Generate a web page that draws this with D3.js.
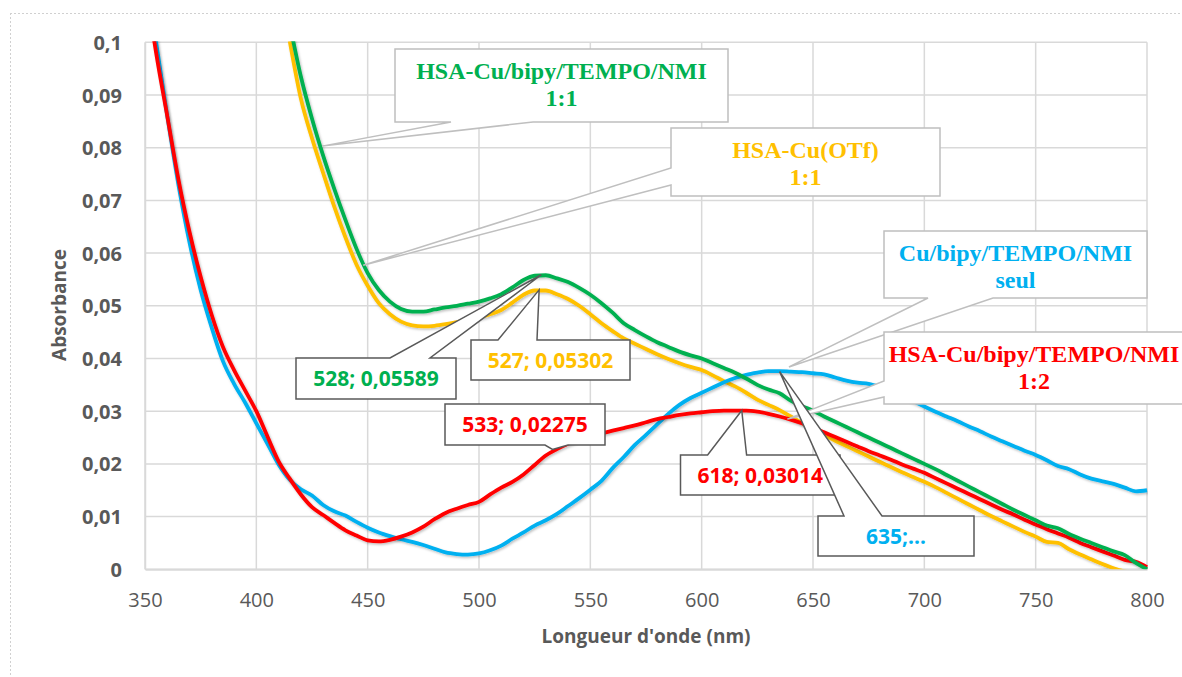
<!DOCTYPE html>
<html><head><meta charset="utf-8">
<script src="https://cdn.jsdelivr.net/npm/d3@7"></script>
<style>html,body{margin:0;padding:0;background:#fff;}svg{display:block;}</style>
</head><body>
<svg id="chart" width="1182" height="677"></svg>
<script>
// ---------- data ----------
const wavelengths = [350,355,360,365,370,375,380,385,390,395,400,405,410,415,420,425,430,435,440,445,
450,455,460,465,470,475,480,485,490,495,500,505,510,515,520,525,530,535,540,545,
550,555,560,565,570,575,580,585,590,595,600,605,610,615,620,625,630,635,640,645,
650,655,660,665,670,675,680,685,690,695,700,705,710,715,720,725,730,735,740,745,
750,755,760,765,770,775,780,785,790,795,800];

// HSA-Cu/bipy/TEMPO/NMI 1:1 (green)
const greenHSA11 = [null,null,null,null,null,null,null,null,null,null,null,null,null,0.1035,0.0935,0.0855,0.0785,0.0722,0.0663,0.0608,
0.0562,0.0530,0.0508,0.0494,0.0489,0.0489,0.0493,0.0497,0.0500,0.0504,0.0508,0.0514,0.0522,0.0535,0.0549,0.0557,0.0558,0.0552,0.0545,0.0534,
0.0521,0.0505,0.0487,0.0467,0.0454,0.0442,0.0431,0.0422,0.0413,0.0406,0.0400,0.0391,0.0382,0.0373,0.0362,0.0350,0.0341,0.0334,0.0320,0.0310,
0.0301,0.0290,0.0280,0.0270,0.0260,0.0250,0.0240,0.0230,0.0220,0.0210,0.0200,0.0190,0.0179,0.0168,0.0157,0.0146,0.0135,0.0124,0.0113,0.0103,
0.0093,0.0083,0.0078,0.0067,0.0058,0.0050,0.0042,0.0034,0.0027,0.0012,0.0000];

// HSA-Cu(OTf) 1:1 (yellow)
const yellowHSAOTf = [null,null,null,null,null,null,null,null,null,null,null,null,null,0.1002,0.0893,0.0818,0.0752,0.0688,0.0630,0.0578,
0.0538,0.0505,0.0484,0.0470,0.0463,0.0461,0.0462,0.0465,0.0469,0.0473,0.0478,0.0484,0.0492,0.0506,0.0521,0.0529,0.0529,0.0522,0.0513,0.0500,
0.0484,0.0467,0.0452,0.0438,0.0428,0.0418,0.0408,0.0399,0.0391,0.0384,0.0378,0.0368,0.0357,0.0347,0.0335,0.0322,0.0312,0.0302,0.0290,0.0278,
0.0266,0.0255,0.0244,0.0234,0.0224,0.0214,0.0204,0.0194,0.0184,0.0175,0.0166,0.0156,0.0145,0.0134,0.0123,0.0112,0.0101,0.0091,0.0081,0.0071,
0.0062,0.0052,0.0050,0.0038,0.0028,0.0019,0.0010,0.0002,-0.0004,-0.0008,-0.0010];

// Cu/bipy/TEMPO/NMI seul (blue)
const blueSeul = [0.113,0.100,0.086,0.073,0.062,0.053,0.0458,0.0395,0.0352,0.0316,0.0277,0.0238,0.0199,0.0170,0.0152,0.0140,0.0122,0.0110,0.0102,0.0090,
0.0079,0.0070,0.0063,0.0057,0.0052,0.0046,0.0039,0.0032,0.0029,0.0028,0.0030,0.0036,0.0045,0.0058,0.0070,0.0083,0.0093,0.0105,0.0120,0.0135,
0.0151,0.0168,0.0192,0.0213,0.0236,0.0255,0.0275,0.0295,0.0312,0.0325,0.0335,0.0345,0.0355,0.0363,0.0369,0.0373,0.0376,0.0376,0.0375,0.0374,
0.0372,0.0370,0.0364,0.0358,0.0354,0.0352,0.0346,0.0338,0.0329,0.0319,0.0309,0.0299,0.0290,0.0281,0.0271,0.0262,0.0252,0.0243,0.0234,0.0225,
0.0217,0.0207,0.0196,0.0190,0.0180,0.0172,0.0167,0.0162,0.0155,0.0148,0.0150];

// HSA-Cu/bipy/TEMPO/NMI 1:2 (red)
const redHSA12 = [0.112,0.098,0.086,0.074,0.064,0.0555,0.0482,0.0422,0.0378,0.0339,0.0300,0.0252,0.0205,0.0172,0.0142,0.0118,0.0103,0.0088,0.0074,0.0064,
0.0055,0.0053,0.0056,0.0062,0.0070,0.0081,0.0095,0.0107,0.0115,0.0122,0.0128,0.0142,0.0155,0.0166,0.0180,0.0198,0.0216,0.0228,0.0238,0.0246,
0.0253,0.0258,0.0263,0.0268,0.0273,0.0279,0.0285,0.0289,0.0293,0.0296,0.0298,0.0300,0.0301,0.0301,0.0301,0.0299,0.0295,0.0290,0.0284,0.0277,
0.0269,0.0260,0.0251,0.0242,0.0233,0.0224,0.0216,0.0208,0.0199,0.0191,0.0183,0.0173,0.0163,0.0153,0.0143,0.0133,0.0123,0.0113,0.0104,0.0094,
0.0085,0.0076,0.0068,0.0060,0.0050,0.0042,0.0034,0.0026,0.0018,0.0014,0.0004];

const xTicks = [350,400,450,500,550,600,650,700,750,800];
const yTicks = [0,0.01,0.02,0.03,0.04,0.05,0.06,0.07,0.08,0.09,0.1];
const yTickLabels = ["0","0,01","0,02","0,03","0,04","0,05","0,06","0,07","0,08","0,09","0,1"];

// series names & point labels
const seriesNames = ["HSA-Cu/bipy/TEMPO/NMI|1:1","HSA-Cu(OTf)|1:1","Cu/bipy/TEMPO/NMI|seul","HSA-Cu/bipy/TEMPO/NMI|1:2"];
const pointLabelX = [528, 527, 533, 618, 635];
const pointLabelY = [0.05589, 0.05302, 0.02275, 0.03014, 0.0375];
const pointLabelText = ["528; 0,05589","527; 0,05302","533; 0,02275","618; 0,03014","635;\u2026"];

// ---------- layout ----------
const C = {green:"#00B050", yellow:"#FFC000", blue:"#00B0F0", red:"#FF0000"};
const svg = d3.select("#chart");
const L = 145, R = 1147, T = 42.3, B = 569.3;
const x = d3.scaleLinear().domain([350,800]).range([L,R]);
const y = d3.scaleLinear().domain([0,0.1]).range([B,T]);

// outer dotted border
svg.append("line").attr("x1",10).attr("x2",1182).attr("y1",13.5).attr("y2",13.5)
  .attr("stroke","#d0d0d0").attr("stroke-width",1).attr("stroke-dasharray","2,2");
svg.append("line").attr("x1",10.5).attr("x2",10.5).attr("y1",13).attr("y2",677)
  .attr("stroke","#d0d0d0").attr("stroke-width",1).attr("stroke-dasharray","2,2");

const defs = svg.append("defs");
defs.append("clipPath").attr("id","plotclip").append("rect")
  .attr("x",L).attr("y",T-1).attr("width",R-L+1).attr("height",B-T+1);
const f = defs.append("filter").attr("id","shadow").attr("x","-5%").attr("y","-5%").attr("width","110%").attr("height","110%");
f.append("feDropShadow").attr("dx",1.2).attr("dy",1.5).attr("stdDeviation",1.2).attr("flood-color","#000").attr("flood-opacity",0.25);

// gridlines
const grid = svg.append("g");
grid.selectAll(".gx").data(xTicks).join("line")
  .attr("x1",d=>x(d)).attr("x2",d=>x(d)).attr("y1",T).attr("y2",B)
  .attr("stroke","#d9d9d9").attr("stroke-width",1.5);
grid.selectAll(".gy").data(yTicks).join("line")
  .attr("x1",L).attr("x2",R).attr("y1",d=>y(d)).attr("y2",d=>y(d))
  .attr("stroke","#d9d9d9").attr("stroke-width",1.5);

// axes (labels)
const xAxis = d3.axisBottom(x).tickValues(xTicks).tickSize(0).tickPadding(0).tickFormat(d3.format("d"));
const gx = svg.append("g").attr("transform",`translate(0,${B})`).call(xAxis);
gx.select(".domain").attr("stroke","#d9d9d9").attr("stroke-width",2);
gx.selectAll("text").attr("font-family","'Open Sans', sans-serif").attr("font-size",20)
  .attr("fill","#595959").attr("dy",null).attr("y",38);

const yAxis = d3.axisLeft(y).tickValues(yTicks).tickSize(0).tickPadding(0).tickFormat((d,i)=>yTickLabels[i]);
const gy = svg.append("g").attr("transform",`translate(${L},0)`).call(yAxis);
gy.select(".domain").attr("stroke","#d9d9d9").attr("stroke-width",1.5);
gy.selectAll("text").attr("font-family","'Open Sans', sans-serif").attr("font-size",20).attr("font-weight","bold")
  .attr("fill","#595959").attr("x",-23).attr("dy","0.35em");

svg.append("text").attr("x",646).attr("y",643).attr("text-anchor","middle")
  .attr("font-family","'Open Sans', sans-serif").attr("font-size",19).attr("font-weight","bold").attr("fill","#595959")
  .text("Longueur d'onde (nm)");
svg.append("text").attr("transform","translate(66,305) rotate(-90)").attr("text-anchor","middle")
  .attr("font-family","'Open Sans', sans-serif").attr("font-size",19).attr("font-weight","bold").attr("fill","#595959")
  .text("Absorbance");

// series lines
const series = [
  {vals:yellowHSAOTf, color:C.yellow},
  {vals:blueSeul, color:C.blue},
  {vals:redHSA12, color:C.red},
  {vals:greenHSA11, color:C.green}
];
const line = d3.line().defined(d=>d[1]!==null).x(d=>x(d[0])).y(d=>y(d[1])).curve(d3.curveMonotoneX);
const lg = svg.append("g").attr("clip-path","url(#plotclip)");
series.forEach(s=>{
  lg.append("path").datum(wavelengths.map((w,i)=>[w,s.vals[i]]))
    .attr("d",line).attr("fill","none").attr("stroke",s.color).attr("stroke-width",3.8)
    .attr("stroke-linejoin","round").attr("filter","url(#shadow)");
});

// callout helper
function calloutPath(b, edge, p1, p2, tip){
  const x0=b.x, y0=b.y, x1=b.x+b.w, y1=b.y+b.h;
  let p = `M${x0},${y0}`;
  if(edge==="top") p += `L${p1},${y0}L${tip[0]},${tip[1]}L${p2},${y0}`;
  p += `L${x1},${y0}L${x1},${y1}`;
  if(edge==="bottom") p += `L${p2},${y1}L${tip[0]},${tip[1]}L${p1},${y1}`;
  p += `L${x0},${y1}`;
  if(edge==="left") p += `L${x0},${p2}L${tip[0]},${tip[1]}L${x0},${p1}`;
  return p + "Z";
}

// series name callouts
const nameBoxes = [
  {b:{x:395,y:49,w:333,h:73}, edge:"bottom", p:[451,533], tip:[429.5,0.0803], color:C.green, tx:561.5},
  {b:{x:671,y:128,w:269,h:68}, edge:"left", p:[168,185], tip:[448,0.0577], color:C.yellow, tx:805.5},
  {b:{x:884,y:231,w:263,h:67}, edge:"bottom", p:[928,993], tip:[639.2,0.0384], color:C.blue, tx:1015.5},
  {b:{x:884,y:332,w:304,h:72}, edge:"left", p:[381,397], tip:[638.5,0.0285], color:C.red, tx:1034}
];
const ng = svg.append("g");
nameBoxes.forEach((nb,i)=>{
  ng.append("path").attr("d",calloutPath(nb.b,nb.edge,nb.p[0],nb.p[1],[x(nb.tip[0]),y(nb.tip[1])]))
    .attr("fill","#fff").attr("stroke","#bfbfbf").attr("stroke-width",1.5);
  const lines = seriesNames[i].split("|");
  lines.forEach((t,j)=>{
    ng.append("text").attr("x",nb.tx).attr("y",nb.b.y + 30 + j*27).attr("text-anchor","middle")
      .attr("font-family","'Liberation Serif','Times New Roman',serif").attr("font-weight","bold")
      .attr("font-size",24).attr("fill",nb.color).text(t);
  });
});

// point data labels
const ptBoxes = [
  {b:{x:296,y:358,w:160,h:41}, edge:"top", p:[390,430], color:C.green},
  {b:{x:471,y:340,w:159,h:40}, edge:"top", p:[498,537], color:C.yellow},
  {b:{x:445,y:404,w:160,h:41}, edge:"bottom", p:[545,568], color:C.red},
  {b:{x:680.5,y:455,w:159.5,h:40}, edge:"top", p:[707.6,746.6], color:C.red},
  {b:{x:818,y:516,w:156,h:40}, edge:"top", p:[844,882], color:C.blue}
];
const pg = svg.append("g");
ptBoxes.forEach((pb,i)=>{
  const tip = [x(pointLabelX[i]), y(pointLabelY[i])];
  pg.append("path").attr("d",calloutPath(pb.b,pb.edge,pb.p[0],pb.p[1],tip))
    .attr("fill","#fff").attr("stroke","#595959").attr("stroke-width",1.5);
  pg.append("text").attr("x",pb.b.x+pb.b.w/2).attr("y",pb.b.y+pb.b.h/2).attr("dy","0.36em")
    .attr("text-anchor","middle").attr("font-family","'Open Sans', sans-serif").attr("font-weight","bold")
    .attr("font-size",21).attr("fill",pb.color).text(pointLabelText[i]);
});
</script>
</body></html>
